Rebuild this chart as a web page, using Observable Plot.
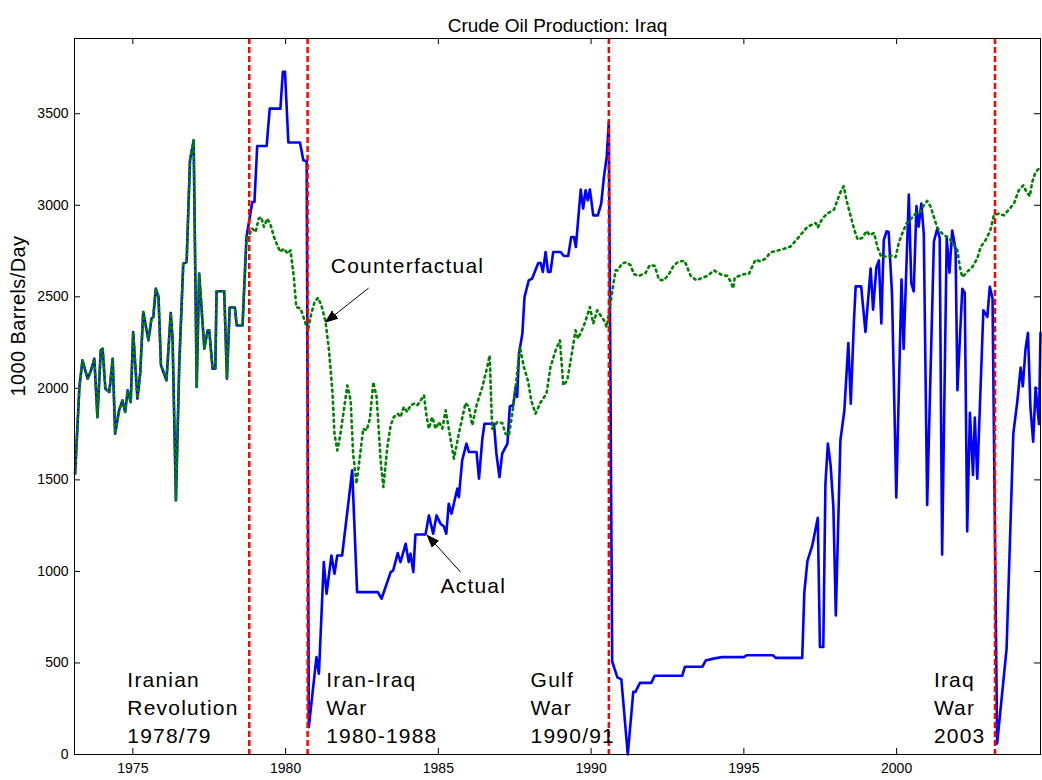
<!DOCTYPE html>
<html>
<head>
<meta charset="utf-8">
<script src="https://cdn.jsdelivr.net/npm/d3@7"></script>
<script src="https://cdn.jsdelivr.net/npm/@observablehq/plot@0.6"></script>
<style>
  html, body { margin: 0; padding: 0; background: #fff; }
  #chart svg { display: block; }
</style>
</head>
<body>
<div id="chart"></div>
<script>
// ---- Data (year, 1000 barrels/day) ----
// Before the Iranian revolution, actual and counterfactual coincide
const sharedSeries = [
  [1973.11,1534],[1973.25,2007],[1973.35,2153],[1973.52,2053],[1973.63,2098],[1973.74,2162],[1973.84,1843],[1973.95,2208],
  [1974.01,2217],[1974.10,1998],[1974.23,1980],[1974.34,2162],[1974.42,1752],[1974.55,1880],[1974.66,1934],[1974.75,1871],
  [1974.83,1989],[1974.93,1925],[1975.01,2308],[1975.15,1944],[1975.24,2080],[1975.34,2417],[1975.51,2262],[1975.61,2381],
  [1975.67,2390],[1975.75,2545],[1975.84,2499],[1975.92,2126],[1976.10,2044],[1976.24,2412],[1976.30,2272],[1976.41,1388],
  [1976.52,2135],[1976.65,2681],[1976.76,2690],[1976.87,3246],[1976.99,3355],[1977.09,2007],[1977.17,2627],[1977.34,2217],
  [1977.45,2317],[1977.50,2317],[1977.61,2108],[1977.70,2108],[1977.74,2530],[1977.99,2530],[1978.08,2053],[1978.17,2441],
  [1978.34,2441],[1978.40,2344],[1978.59,2344],[1978.72,2827]
];
const actualSeries = [
  [1978.91,3018],[1978.98,3018],[1979.07,3324],[1979.38,3324],[1979.48,3528],[1979.83,3528],[1979.91,3729],[1979.98,3729],
  [1980.09,3343],[1980.47,3343],[1980.58,3246],[1980.69,3240],[1980.76,149],[1981.01,532],[1981.09,441],[1981.25,1051],
  [1981.34,878],[1981.50,1087],[1981.60,987],[1981.69,1087],[1981.85,1087],[1982.18,1552],[1982.34,887],[1983.02,887],
  [1983.14,851],[1983.44,996],[1983.52,1005],[1983.67,1100],[1983.76,1051],[1983.93,1151],[1984.03,1051],[1984.09,1097],
  [1984.18,996],[1984.25,1202],[1984.58,1202],[1984.69,1306],[1984.83,1206],[1984.94,1306],[1985.07,1261],[1985.18,1246],
  [1985.26,1206],[1985.34,1370],[1985.43,1315],[1985.62,1452],[1985.67,1406],[1985.78,1607],[1985.92,1698],[1986.00,1652],
  [1986.25,1652],[1986.33,1507],[1986.44,1725],[1986.51,1807],[1986.82,1807],[1986.90,1643],[1987.00,1515],[1987.09,1643],
  [1987.26,1698],[1987.34,1902],[1987.45,1907],[1987.53,2007],[1987.58,1953],[1987.64,2190],[1987.75,2299],[1987.82,2499],
  [1987.96,2590],[1988.07,2600],[1988.27,2685],[1988.35,2685],[1988.42,2636],[1988.51,2745],[1988.59,2636],[1988.67,2636],
  [1988.76,2745],[1989.00,2745],[1989.11,2723],[1989.25,2723],[1989.35,2827],[1989.44,2827],[1989.50,2772],[1989.66,3086],
  [1989.74,2982],[1989.82,3082],[1989.89,3027],[1989.96,3086],[1990.07,2945],[1990.22,2945],[1990.33,3009],[1990.42,3155],
  [1990.51,3264],[1990.58,3455],[1990.69,508],[1990.86,421],[1990.99,410],[1991.20,0],[1991.38,342],[1991.45,342],
  [1991.60,391],[1991.97,391],[1992.08,430],[1992.98,430],[1993.07,479],[1993.64,479],[1993.75,513],[1994.04,525],
  [1994.29,532],[1995.00,532],[1995.09,542],[1995.96,542],[1996.04,528],[1996.91,528],[1996.98,887],[1997.08,1056],
  [1997.24,1142],[1997.42,1293],[1997.49,587],[1997.60,587],[1997.67,1479],[1997.75,1698],[1997.84,1579],[1997.93,1351],
  [1998.01,760],[1998.16,1716],[1998.29,1880],[1998.42,2248],[1998.50,1916],[1998.60,2354],[1998.66,2557],[1998.84,2557],
  [1998.98,2308],[1999.15,2654],[1999.23,2430],[1999.34,2663],[1999.42,2699],[1999.50,2354],[1999.58,2809],[1999.67,2858],
  [1999.74,2854],[1999.85,2513],[1999.99,1404],[2000.16,2595],[2000.23,2215],[2000.40,3058],[2000.48,2575],[2000.56,2530],
  [2000.65,2996],[2000.72,2883],[2000.81,3010],[2000.89,2842],[2001.00,1363],[2001.22,2801],[2001.33,2873],[2001.41,2821],
  [2001.49,1092],[2001.64,2821],[2001.73,2632],[2001.82,2862],[2001.93,2760],[2001.99,1990],[2002.15,2544],[2002.23,2523],
  [2002.31,1219],[2002.40,1866],[2002.50,1527],[2002.56,1840],[2002.64,1507],[2002.84,2427],[2002.97,2390],[2003.05,2555],
  [2003.14,2493],[2003.29,59],[2003.60,578],[2003.82,1753],[2003.95,1928],[2004.06,2113],[2004.13,2010],[2004.22,2215],
  [2004.30,2303],[2004.38,1898],[2004.47,1709],[2004.55,2005],[2004.66,1805],[2004.71,2303]
];
const counterfactualSeries = [
  [1978.83,2845],[1978.91,2873],[1979.02,2854],[1979.12,2927],[1979.20,2936],[1979.29,2882],[1979.40,2927],[1979.51,2891],
  [1979.62,2827],[1979.75,2772],[1979.83,2745],[1979.94,2763],[1980.07,2736],[1980.16,2754],[1980.27,2608],[1980.35,2444],
  [1980.49,2436],[1980.62,2372],[1980.73,2313],[1980.84,2408],[1980.95,2472],[1981.06,2495],[1981.17,2454],[1981.31,2362],
  [1981.42,2208],[1981.53,1989],[1981.60,1752],[1981.69,1661],[1981.78,1734],[1981.89,1862],[1982.02,2016],[1982.13,1934],
  [1982.21,1643],[1982.32,1479],[1982.43,1625],[1982.54,1780],[1982.65,1770],[1982.76,1834],[1982.87,2034],[1982.98,1952],
  [1983.11,1607],[1983.20,1461],[1983.33,1679],[1983.44,1798],[1983.54,1843],[1983.67,1862],[1983.76,1843],[1983.87,1898],
  [1983.98,1871],[1984.09,1907],[1984.20,1916],[1984.31,1907],[1984.42,1934],[1984.53,1962],[1984.61,1852],[1984.69,1780],
  [1984.80,1843],[1984.91,1780],[1985.02,1816],[1985.13,1780],[1985.24,1880],[1985.34,1780],[1985.51,1616],[1985.67,1752],
  [1985.89,1920],[1986.00,1898],[1986.11,1798],[1986.25,1907],[1986.44,2007],[1986.60,2116],[1986.68,2180],[1986.73,1934],
  [1986.76,1780],[1986.93,1816],[1987.09,1811],[1987.20,1752],[1987.31,1743],[1987.42,1862],[1987.53,2007],[1987.67,2226],
  [1987.80,2116],[1987.93,2044],[1988.04,1934],[1988.18,1862],[1988.35,1925],[1988.54,1971],[1988.67,2116],[1988.84,2208],
  [1988.98,2262],[1989.09,2016],[1989.22,2044],[1989.35,2171],[1989.49,2317],[1989.57,2272],[1989.65,2299],[1989.79,2354],
  [1989.96,2444],[1990.07,2354],[1990.20,2426],[1990.42,2372],[1990.51,2335],[1990.58,2408],[1990.69,2526],[1990.80,2645],
  [1990.86,2644],[1991.02,2683],[1991.16,2689],[1991.29,2673],[1991.40,2624],[1991.56,2614],[1991.78,2630],[1991.92,2673],
  [1992.08,2669],[1992.22,2594],[1992.38,2590],[1992.55,2624],[1992.71,2673],[1992.87,2693],[1993.06,2697],[1993.26,2614],
  [1993.45,2590],[1993.64,2604],[1993.80,2614],[1994.02,2644],[1994.13,2634],[1994.29,2618],[1994.46,2614],[1994.56,2585],
  [1994.65,2546],[1994.70,2604],[1994.84,2614],[1995.00,2624],[1995.16,2624],[1995.27,2663],[1995.38,2703],[1995.55,2693],
  [1995.71,2709],[1995.87,2742],[1996.09,2752],[1996.31,2762],[1996.53,2775],[1996.80,2827],[1997.08,2882],[1997.35,2903],
  [1997.42,2878],[1997.57,2927],[1997.73,2955],[1997.95,2976],[1998.08,3036],[1998.19,3082],[1998.27,3104],[1998.36,3027],
  [1998.49,2945],[1998.62,2863],[1998.73,2812],[1998.88,2823],[1999.02,2860],[1999.12,2836],[1999.26,2849],[1999.37,2772],
  [1999.50,2717],[1999.67,2721],[1999.86,2725],[1999.97,2717],[2000.07,2794],[2000.18,2845],[2000.33,2903],[2000.48,2927],
  [2000.62,2955],[2000.76,2963],[2000.87,2994],[2001.00,3024],[2001.11,2994],[2001.22,2936],[2001.33,2878],[2001.44,2854],
  [2001.55,2836],[2001.71,2823],[2001.85,2787],[2001.99,2754],[2002.07,2663],[2002.15,2608],[2002.31,2636],[2002.48,2663],
  [2002.64,2709],[2002.75,2772],[2002.91,2809],[2003.07,2863],[2003.18,2945],[2003.35,2955],[2003.51,2945],[2003.67,2976],
  [2003.84,3009],[2004.00,3082],[2004.15,3109],[2004.25,3073],[2004.36,3049],[2004.44,3127],[2004.55,3182],[2004.66,3200],
  [2004.71,3206]
];

// Events (vertical dashed lines) and their labels
const eventYears = [1978.81, 1980.72, 1990.58, 2003.22];
const eventLabels = ["Iranian\nRevolution\n1978/79", "Iran-Iraq\nWar\n1980-1988", "Gulf\nWar\n1990/91", "Iraq\nWar\n2003"];
const eventLabelYears = [1974.82, 1981.33, 1988.02, 2001.22];
const eventLabelValue = 475;

// Series annotations
const seriesNotes = ["Counterfactual", "Actual"];
const noteTextYears = [1981.48, 1985.07];
const noteTextValues = [2710, 962];
const noteArrowFrom = [[1982.72, 2548], [1985.73, 996]];
const noteArrowTo = [[1981.31, 2362], [1984.64, 1197]];

// Axes
const xTicks = [1975, 1980, 1985, 1990, 1995, 2000];
const yTicks = [0, 500, 1000, 1500, 2000, 2500, 3000, 3500];
const xDomain = [1973.09, 2004.71];
const yDomain = [0, 3911];
const titleText = "Crude Oil Production: Iraq";
const yLabelText = "1000 Barrels/Day";

// ---- Build tables ----
const toRows = arr => arr.map(([year, value]) => ({year, value}));
const actualRows = toRows(sharedSeries.concat(actualSeries));
const cfRows = toRows(sharedSeries.concat(counterfactualSeries));
const eventRows = eventLabels.map((label, i) => ({label, year: eventLabelYears[i], value: eventLabelValue}));
const noteRows = seriesNotes.map((label, i) => ({label, year: noteTextYears[i], value: noteTextValues[i]}));
const arrowRows = seriesNotes.map((label, i) => ({
  x1: noteArrowFrom[i][0], y1: noteArrowFrom[i][1], x2: noteArrowTo[i][0], y2: noteArrowTo[i][1]
}));

const W = 1042, H = 780;
const M = {top: 38, right: 2, bottom: 26, left: 74};
const innerW = W - M.left - M.right, innerH = H - M.top - M.bottom;
// inward tick length (6px) expressed in data units
const tickLenY = 6 * (yDomain[1] - yDomain[0]) / innerH;
const tickLenX = 6 * (xDomain[1] - xDomain[0]) / innerW;

function filledArrowMarker(color, context) {
  const ns = "http://www.w3.org/2000/svg";
  const doc = (context && context.document) ? context.document : document;
  const m = doc.createElementNS(ns, "marker");
  m.setAttribute("viewBox", "-12 -5 12 10");
  m.setAttribute("markerWidth", 12);
  m.setAttribute("markerHeight", 10);
  m.setAttribute("markerUnits", "userSpaceOnUse");
  m.setAttribute("refX", 0);
  m.setAttribute("refY", 0);
  m.setAttribute("orient", "auto");
  const p = doc.createElementNS(ns, "path");
  p.setAttribute("d", "M0,0L-12,-4.5L-12,4.5Z");
  p.setAttribute("fill", color);
  m.appendChild(p);
  return m;
}

const font = "'Liberation Sans', Arial, Helvetica, sans-serif";

const chart = Plot.plot({
  width: W,
  height: H,
  marginTop: M.top, marginRight: M.right, marginBottom: M.bottom, marginLeft: M.left,
  style: {fontFamily: font, fontSize: "14px", background: "#fff", color: "#000", overflow: "visible"},
  x: {domain: xDomain, label: null},
  y: {domain: yDomain, label: null},
  marks: [
    Plot.axisX({ticks: xTicks, tickSize: 0, tickPadding: 9, tickFormat: "d", fontSize: 14, label: null}),
    Plot.axisY({ticks: yTicks, tickSize: 0, tickPadding: 6, tickFormat: "d", fontSize: 14, label: null}),
    // inward tick marks on all four sides
    Plot.ruleX(xTicks, {x: d => d, y1: yDomain[0], y2: yDomain[0] + tickLenY, stroke: "#000", strokeWidth: 1}),
    Plot.ruleX(xTicks, {x: d => d, y1: yDomain[1] - tickLenY, y2: yDomain[1], stroke: "#000", strokeWidth: 1}),
    Plot.ruleY(yTicks, {y: d => d, x1: xDomain[0], x2: xDomain[0] + tickLenX, stroke: "#000", strokeWidth: 1}),
    Plot.ruleY(yTicks, {y: d => d, x1: xDomain[1] - tickLenX, x2: xDomain[1], stroke: "#000", strokeWidth: 1}),
    // series
    Plot.line(actualRows, {x: "year", y: "value", stroke: "#0000ff", strokeWidth: 2.6, strokeLinejoin: "round"}),
    Plot.line(cfRows, {x: "year", y: "value", stroke: "#008000", strokeWidth: 2.6, strokeDasharray: "2,4"}),
    // event lines
    Plot.ruleX(eventYears, {x: d => d, stroke: "#ff0000", strokeWidth: 2.5, strokeDasharray: "6,3"}),
    Plot.frame({stroke: "#000", strokeWidth: 1}),
    // annotations
    Plot.link(arrowRows, {x1: "x1", y1: "y1", x2: "x2", y2: "y2", stroke: "#000", strokeWidth: 1, markerEnd: filledArrowMarker}),
    Plot.text(noteRows, {x: "year", y: "value", text: "label", textAnchor: "start", lineAnchor: "top", lineHeight: 1,
      fontSize: 21, fill: "#000"}),
    Plot.text(eventRows, {x: "year", y: "value", text: "label", textAnchor: "start", lineAnchor: "top", lineHeight: 1.32,
      fontSize: 21, fill: "#000"}),
    // title and y label
    Plot.text([titleText], {frameAnchor: "top", dy: -20, fontSize: 19, fill: "#000"}),
    Plot.text([yLabelText], {frameAnchor: "left", rotate: -90, dx: -56, fontSize: 20, fill: "#000"})
  ]
});

document.getElementById("chart").appendChild(chart);
d3.select(chart).selectAll('g[font-size="21"] text').style("letter-spacing", "1.2px");
d3.select(chart).selectAll('g[font-size="20"] text').style("letter-spacing", "0.4px");
</script>
</body>
</html>
